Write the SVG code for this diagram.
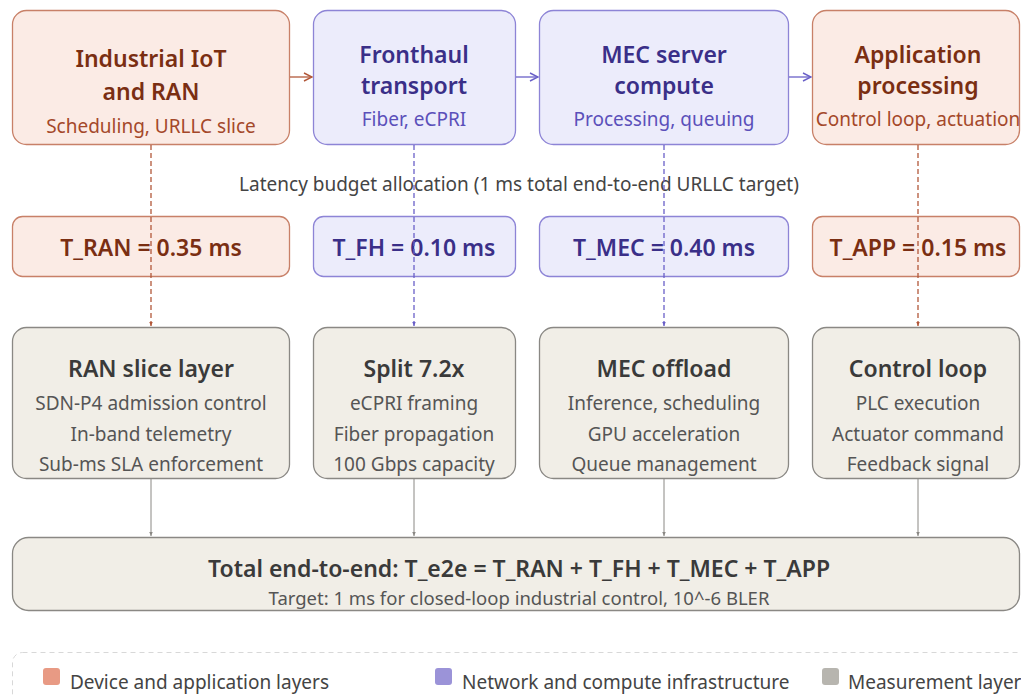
<svg xmlns="http://www.w3.org/2000/svg" width="1021" height="698" viewBox="0 0 1021 698">
<defs>
<style>
text{font-family:"Noto Sans","Open Sans","Liberation Sans",sans-serif;text-anchor:middle}
.o rect{fill:#fbebe5;stroke:#c88068;stroke-width:1.3}
.p rect{fill:#ececfb;stroke:#8d84d6;stroke-width:1.3}
.g rect{fill:#f1eee7;stroke:#8a8884;stroke-width:1.3}
.t{font-size:23px;font-weight:600}
.s{font-size:19px}
.o .t{fill:#7a2e12}.o .s{fill:#a4482a}
.p .t{fill:#3a2f88}.p .s{fill:#5b50ba}
.g .t{fill:#3a3a3a}.g .s{fill:#555}
.lbl{font-size:19px;fill:#444}
.leg{font-size:19px;fill:#444;text-anchor:start}
.co{stroke:#b2583a;fill:none;stroke-width:1.3}
.cp{stroke:#6a60c8;fill:none;stroke-width:1.3}
.cg{stroke:#8a8884;fill:none;stroke-width:1}
.dash{stroke-dasharray:5 3}
</style>
<marker id="ao" viewBox="0 0 10 10" refX="9" refY="5" markerWidth="10" markerHeight="10" orient="auto" markerUnits="userSpaceOnUse"><path d="M1,1 L9,5 L1,9" fill="none" stroke="#b2583a" stroke-width="1.4"/></marker>
<marker id="ap" viewBox="0 0 10 10" refX="9" refY="5" markerWidth="10" markerHeight="10" orient="auto" markerUnits="userSpaceOnUse"><path d="M1,1 L9,5 L1,9" fill="none" stroke="#6a60c8" stroke-width="1.4"/></marker>
<marker id="so" viewBox="0 0 10 10" refX="9" refY="5" markerWidth="5" markerHeight="5" orient="auto" markerUnits="userSpaceOnUse"><path d="M0,1 L9,5 L0,9z" fill="#b2583a"/></marker>
<marker id="sp" viewBox="0 0 10 10" refX="9" refY="5" markerWidth="5" markerHeight="5" orient="auto" markerUnits="userSpaceOnUse"><path d="M0,1 L9,5 L0,9z" fill="#6a60c8"/></marker>
<marker id="sg" viewBox="0 0 10 10" refX="9" refY="5" markerWidth="5" markerHeight="5" orient="auto" markerUnits="userSpaceOnUse"><path d="M0,1 L9,5 L0,9z" fill="#8a8884"/></marker>
</defs>
<rect width="1021" height="698" fill="#ffffff"/>

<g id="iot" class="o"><rect x="12.5" y="10.5" width="277" height="134" rx="14"/>
<text class="t" x="151" y="67">Industrial IoT</text><text class="t" x="151" y="100">and RAN</text><text class="s" x="151" y="133">Scheduling, URLLC slice</text></g>
<g id="fronthaul" class="p"><rect x="313.5" y="10.5" width="202" height="134" rx="14"/>
<text class="t" x="414" y="63">Fronthaul</text><text class="t" x="414" y="94">transport</text><text class="s" x="414" y="126">Fiber, eCPRI</text></g>
<g id="mec" class="p"><rect x="539.5" y="10.5" width="249" height="134" rx="14"/>
<text class="t" x="664" y="63">MEC server</text><text class="t" x="664" y="94">compute</text><text class="s" x="664" y="126">Processing, queuing</text></g>
<g id="app" class="o"><rect x="812.5" y="10.5" width="207" height="134" rx="14"/>
<text class="t" x="918" y="63">Application</text><text class="t" x="918" y="94">processing</text><text class="s" x="918" y="126">Control loop, actuation</text></g>

<text id="budget-label" class="lbl" x="519" y="191">Latency budget allocation (1 ms total end-to-end URLLC target)</text>

<g id="tran" class="o"><rect x="12.5" y="216.5" width="277" height="60" rx="10"/><text class="t" x="151" y="256">T_RAN = 0.35 ms</text></g>
<g id="tfh" class="p"><rect x="313.5" y="216.5" width="202" height="60" rx="10"/><text class="t" x="414" y="256">T_FH = 0.10 ms</text></g>
<g id="tmec" class="p"><rect x="539.5" y="216.5" width="249" height="60" rx="10"/><text class="t" x="664" y="256">T_MEC = 0.40 ms</text></g>
<g id="tapp" class="o"><rect x="812.5" y="216.5" width="207" height="60" rx="10"/><text class="t" x="918" y="256">T_APP = 0.15 ms</text></g>

<g id="ranslice" class="g"><rect x="12.5" y="327.5" width="277" height="151" rx="14"/>
<text class="t" x="151" y="377">RAN slice layer</text><text class="s" x="151" y="410">SDN-P4 admission control</text><text class="s" x="151" y="441">In-band telemetry</text><text class="s" x="151" y="471">Sub-ms SLA enforcement</text></g>
<g id="split" class="g"><rect x="313.5" y="327.5" width="202" height="151" rx="14"/>
<text class="t" x="414" y="377">Split 7.2x</text><text class="s" x="414" y="410">eCPRI framing</text><text class="s" x="414" y="441">Fiber propagation</text><text class="s" x="414" y="471">100 Gbps capacity</text></g>
<g id="offload" class="g"><rect x="539.5" y="327.5" width="249" height="151" rx="14"/>
<text class="t" x="664" y="377">MEC offload</text><text class="s" x="664" y="410">Inference, scheduling</text><text class="s" x="664" y="441">GPU acceleration</text><text class="s" x="664" y="471">Queue management</text></g>
<g id="controlloop" class="g"><rect x="812.5" y="327.5" width="207" height="151" rx="14"/>
<text class="t" x="918" y="377">Control loop</text><text class="s" x="918" y="410">PLC execution</text><text class="s" x="918" y="441">Actuator command</text><text class="s" x="918" y="471">Feedback signal</text></g>

<g id="total" class="g"><rect x="12.5" y="537.5" width="1007" height="73" rx="16"/>
<text class="t" x="519" y="577">Total end-to-end: T_e2e = T_RAN + T_FH + T_MEC + T_APP</text>
<text class="s" x="519" y="605" style="font-size:18.5px">Target: 1 ms for closed-loop industrial control, 10^-6 BLER</text></g>

<g id="connectors">
<path class="co" d="M290,77 H312" marker-end="url(#ao)"/>
<path class="cp" d="M516,77 H538" marker-end="url(#ap)"/>
<path class="cp" d="M789,77 H811" marker-end="url(#ap)"/>
<path class="co dash" d="M151,145 V326" marker-end="url(#so)"/>
<path class="cp dash" d="M414,145 V326" marker-end="url(#sp)"/>
<path class="cp dash" d="M664,145 V326" marker-end="url(#sp)"/>
<path class="co dash" d="M918,145 V326" marker-end="url(#so)"/>
<path class="cg" d="M151,479 V536" marker-end="url(#sg)"/>
<path class="cg" d="M414,479 V536" marker-end="url(#sg)"/>
<path class="cg" d="M664,479 V536" marker-end="url(#sg)"/>
<path class="cg" d="M918,479 V536" marker-end="url(#sg)"/>
</g>

<g id="legend">
<rect x="12.5" y="652.5" width="1030" height="60" rx="10" fill="none" stroke="#d8d8d8" stroke-dasharray="5 4"/>
<rect x="43" y="668" width="17" height="17" rx="3" fill="#e89a84"/>
<text class="leg" x="70" y="689">Device and application layers</text>
<rect x="435" y="668" width="17" height="17" rx="3" fill="#9b93d8"/>
<text class="leg" x="462" y="689">Network and compute infrastructure</text>
<rect x="822" y="668" width="17" height="17" rx="3" fill="#b7b5af"/>
<text class="leg" x="848" y="689">Measurement layer</text>
</g>
</svg>
